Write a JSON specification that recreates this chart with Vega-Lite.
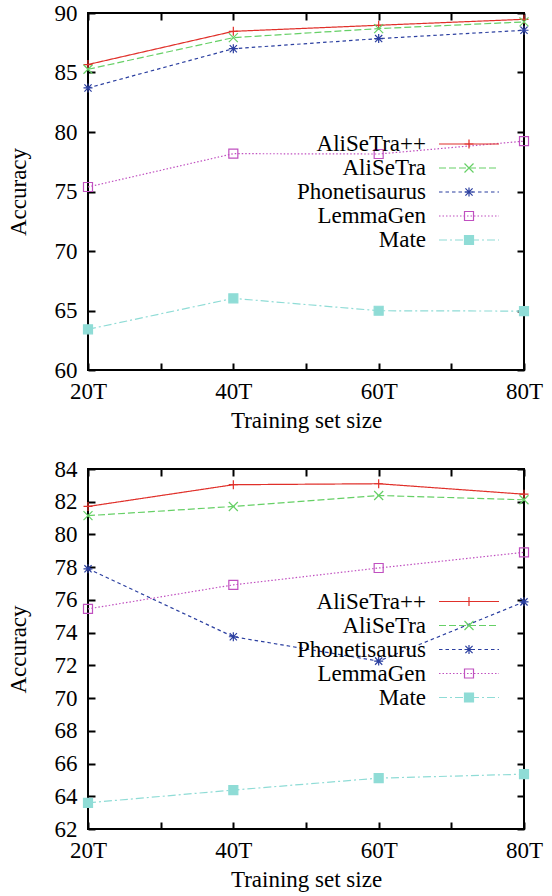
{
  "$schema": "https://vega.github.io/schema/vega-lite/v6.json",
  "padding": {"left": 6, "top": 1, "right": 6, "bottom": 4},
  "background": "white",
  "config": {
    "view": {"stroke": "black", "strokeWidth": 2},
    "font": "Liberation Serif",
    "axis": {"grid": false, "domain": false, "tickColor": "black", "tickWidth": 2, "tickSize": -7, "labelColor": "black", "titleColor": "black", "labelFont": "Liberation Serif", "titleFont": "Liberation Serif", "labelFontSize": 23, "titleFontSize": 23, "titleFontWeight": "normal", "labelOverlap": false, "labelFlush": false},
    "legend": {"rowPadding": -4.7, "labelFont": "Liberation Serif", "labelFontSize": 23, "labelColor": "black"}
  },
  "datasets": {
    "top": [
      {"n": 20, "series": "AliSeTra++", "acc": 85.67},
      {"n": 40, "series": "AliSeTra++", "acc": 88.46},
      {"n": 60, "series": "AliSeTra++", "acc": 88.97},
      {"n": 80, "series": "AliSeTra++", "acc": 89.47},
      {"n": 20, "series": "AliSeTra", "acc": 85.27},
      {"n": 40, "series": "AliSeTra", "acc": 87.93},
      {"n": 60, "series": "AliSeTra", "acc": 88.69},
      {"n": 80, "series": "AliSeTra", "acc": 89.25},
      {"n": 20, "series": "Phonetisaurus", "acc": 83.7},
      {"n": 40, "series": "Phonetisaurus", "acc": 87.0},
      {"n": 60, "series": "Phonetisaurus", "acc": 87.85},
      {"n": 80, "series": "Phonetisaurus", "acc": 88.55},
      {"n": 20, "series": "LemmaGen", "acc": 75.38},
      {"n": 40, "series": "LemmaGen", "acc": 78.18},
      {"n": 60, "series": "LemmaGen", "acc": 78.15},
      {"n": 80, "series": "LemmaGen", "acc": 79.23},
      {"n": 20, "series": "Mate", "acc": 63.42},
      {"n": 40, "series": "Mate", "acc": 66.02},
      {"n": 60, "series": "Mate", "acc": 64.98},
      {"n": 80, "series": "Mate", "acc": 64.95}
    ],
    "bottom": [
      {"n": 20, "series": "AliSeTra++", "acc": 81.71},
      {"n": 40, "series": "AliSeTra++", "acc": 83.04},
      {"n": 60, "series": "AliSeTra++", "acc": 83.1},
      {"n": 80, "series": "AliSeTra++", "acc": 82.46},
      {"n": 20, "series": "AliSeTra", "acc": 81.15},
      {"n": 40, "series": "AliSeTra", "acc": 81.71},
      {"n": 60, "series": "AliSeTra", "acc": 82.38},
      {"n": 80, "series": "AliSeTra", "acc": 82.12},
      {"n": 20, "series": "Phonetisaurus", "acc": 77.9},
      {"n": 40, "series": "Phonetisaurus", "acc": 73.75},
      {"n": 60, "series": "Phonetisaurus", "acc": 72.26},
      {"n": 80, "series": "Phonetisaurus", "acc": 75.88},
      {"n": 20, "series": "LemmaGen", "acc": 75.45},
      {"n": 40, "series": "LemmaGen", "acc": 76.92},
      {"n": 60, "series": "LemmaGen", "acc": 77.95},
      {"n": 80, "series": "LemmaGen", "acc": 78.91},
      {"n": 20, "series": "Mate", "acc": 63.6},
      {"n": 40, "series": "Mate", "acc": 64.38},
      {"n": 60, "series": "Mate", "acc": 65.11},
      {"n": 80, "series": "Mate", "acc": 65.35}
    ]
  },
  "spacing": 24,
  "resolve": {
    "scale": {"x": "independent", "y": "independent", "color": "independent", "strokeDash": "independent", "shape": "independent", "stroke": "independent", "fill": "independent"},
    "legend": {"color": "independent", "strokeDash": "independent", "shape": "independent", "stroke": "independent", "fill": "independent"}
  },
  "vconcat": [
    {
      "width": 436,
      "height": 357,
      "data": {"name": "top"},
      "resolve": {"axis": {"x": "independent", "y": "independent"}},
      "layer": [
        {
          "mark": {"type": "line", "strokeWidth": 1.2},
          "encoding": {
            "x": {"field": "n", "type": "quantitative", "scale": {"domain": [20, 80], "nice": false, "zero": false}, "axis": {"orient": "bottom", "values": [20, 30, 40, 50, 60, 70, 80], "labelExpr": "datum.value % 20 == 0 ? datum.value + 'T' : ''", "title": "Training set size", "labelPadding": 17, "titlePadding": 6}},
            "y": {"field": "acc", "type": "quantitative", "scale": {"domain": [60, 90], "nice": false, "zero": false}, "axis": {"orient": "left", "values": [60, 65, 70, 75, 80, 85, 90], "title": "Accuracy", "labelPadding": 18, "titlePadding": 24}},
            "color": {"field": "series", "type": "nominal", "scale": {"domain": ["AliSeTra++", "AliSeTra", "Phonetisaurus", "LemmaGen", "Mate"], "range": ["#e0302a", "#66d066", "#2b3fa0", "#c050c0", "#8fdcd6"]}, "legend": {"orient": "none", "legendX": 369.5, "legendY": 119.5, "title": null, "symbolType": "M-5,0L5,0", "symbolSize": 144, "symbolStrokeWidth": 1.2, "labelAlign": "right", "labelOffset": -54.5, "padding": 0}},
            "strokeDash": {"field": "series", "type": "nominal", "scale": {"domain": ["AliSeTra++", "AliSeTra", "Phonetisaurus", "LemmaGen", "Mate"], "range": [[1, 0], [7, 3], [3.5, 3], [1.5, 2], [8, 3, 2, 3]]}, "legend": {"orient": "none", "legendX": 369.5, "legendY": 119.5, "title": null, "symbolType": "M-5,0L5,0", "symbolSize": 144, "symbolStrokeWidth": 1.2, "labelAlign": "right", "labelOffset": -54.5, "padding": 0}}
          }
        },
        {
          "mark": {"type": "point", "filled": false, "strokeWidth": 1.2, "size": 81, "opacity": 1},
          "encoding": {
            "x": {"field": "n", "type": "quantitative", "axis": {"orient": "top", "values": [20, 30, 40, 50, 60, 70, 80], "labels": false, "title": null}},
            "y": {"field": "acc", "type": "quantitative", "axis": {"orient": "right", "values": [60, 65, 70, 75, 80, 85, 90], "labels": false, "title": null}},
            "shape": {"field": "series", "type": "nominal", "sort": null, "scale": {"range": ["M-1,0L1,0M0,-1L0,1", "M-1,-1L1,1M-1,1L1,-1", "M-1,0L1,0M0,-1L0,1M-0.8,-0.8L0.8,0.8M-0.8,0.8L0.8,-0.8", "M-1,-1L1,-1L1,1L-1,1Z", "M-1,-1L1,-1L1,1L-1,1Z"]}, "legend": {"orient": "none", "legendX": 369.5, "legendY": 119.5, "title": null, "symbolSize": 81, "symbolStrokeWidth": 1.2, "labelAlign": "right", "labelOffset": -54.5, "labelOpacity": 0, "padding": 0}},
            "stroke": {"field": "series", "type": "nominal", "sort": null, "scale": {"range": ["#e0302a", "#66d066", "#2b3fa0", "#c050c0", "#8fdcd6"]}, "legend": {"orient": "none", "legendX": 369.5, "legendY": 119.5, "title": null, "symbolSize": 81, "symbolStrokeWidth": 1.2, "labelAlign": "right", "labelOffset": -54.5, "labelOpacity": 0, "padding": 0}},
            "fill": {"field": "series", "type": "nominal", "sort": null, "scale": {"range": ["transparent", "transparent", "transparent", "transparent", "#8fdcd6"]}, "legend": {"orient": "none", "legendX": 369.5, "legendY": 119.5, "title": null, "symbolSize": 81, "symbolStrokeWidth": 1.2, "labelAlign": "right", "labelOffset": -54.5, "labelOpacity": 0, "padding": 0}}
          }
        }
      ]
    },
    {
      "width": 436,
      "height": 360,
      "data": {"name": "bottom"},
      "resolve": {"axis": {"x": "independent", "y": "independent"}},
      "layer": [
        {
          "mark": {"type": "line", "strokeWidth": 1.2},
          "encoding": {
            "x": {"field": "n", "type": "quantitative", "scale": {"domain": [20, 80], "nice": false, "zero": false}, "axis": {"orient": "bottom", "values": [20, 30, 40, 50, 60, 70, 80], "labelExpr": "datum.value % 20 == 0 ? datum.value + 'T' : ''", "title": "Training set size", "labelPadding": 17, "titlePadding": 6}},
            "y": {"field": "acc", "type": "quantitative", "scale": {"domain": [62, 84], "nice": false, "zero": false}, "axis": {"orient": "left", "values": [62, 64, 66, 68, 70, 72, 74, 76, 78, 80, 82, 84], "title": "Accuracy", "labelPadding": 18, "titlePadding": 24}},
            "color": {"field": "series", "type": "nominal", "scale": {"domain": ["AliSeTra++", "AliSeTra", "Phonetisaurus", "LemmaGen", "Mate"], "range": ["#e0302a", "#66d066", "#2b3fa0", "#c050c0", "#8fdcd6"]}, "legend": {"orient": "none", "legendX": 369.5, "legendY": 121, "title": null, "symbolType": "M-5,0L5,0", "symbolSize": 144, "symbolStrokeWidth": 1.2, "labelAlign": "right", "labelOffset": -54.5, "padding": 0}},
            "strokeDash": {"field": "series", "type": "nominal", "scale": {"domain": ["AliSeTra++", "AliSeTra", "Phonetisaurus", "LemmaGen", "Mate"], "range": [[1, 0], [7, 3], [3.5, 3], [1.5, 2], [8, 3, 2, 3]]}, "legend": {"orient": "none", "legendX": 369.5, "legendY": 121, "title": null, "symbolType": "M-5,0L5,0", "symbolSize": 144, "symbolStrokeWidth": 1.2, "labelAlign": "right", "labelOffset": -54.5, "padding": 0}}
          }
        },
        {
          "mark": {"type": "point", "filled": false, "strokeWidth": 1.2, "size": 81, "opacity": 1},
          "encoding": {
            "x": {"field": "n", "type": "quantitative", "axis": {"orient": "top", "values": [20, 30, 40, 50, 60, 70, 80], "labels": false, "title": null}},
            "y": {"field": "acc", "type": "quantitative", "axis": {"orient": "right", "values": [62, 64, 66, 68, 70, 72, 74, 76, 78, 80, 82, 84], "labels": false, "title": null}},
            "shape": {"field": "series", "type": "nominal", "sort": null, "scale": {"range": ["M-1,0L1,0M0,-1L0,1", "M-1,-1L1,1M-1,1L1,-1", "M-1,0L1,0M0,-1L0,1M-0.8,-0.8L0.8,0.8M-0.8,0.8L0.8,-0.8", "M-1,-1L1,-1L1,1L-1,1Z", "M-1,-1L1,-1L1,1L-1,1Z"]}, "legend": {"orient": "none", "legendX": 369.5, "legendY": 121, "title": null, "symbolSize": 81, "symbolStrokeWidth": 1.2, "labelAlign": "right", "labelOffset": -54.5, "labelOpacity": 0, "padding": 0}},
            "stroke": {"field": "series", "type": "nominal", "sort": null, "scale": {"range": ["#e0302a", "#66d066", "#2b3fa0", "#c050c0", "#8fdcd6"]}, "legend": {"orient": "none", "legendX": 369.5, "legendY": 121, "title": null, "symbolSize": 81, "symbolStrokeWidth": 1.2, "labelAlign": "right", "labelOffset": -54.5, "labelOpacity": 0, "padding": 0}},
            "fill": {"field": "series", "type": "nominal", "sort": null, "scale": {"range": ["transparent", "transparent", "transparent", "transparent", "#8fdcd6"]}, "legend": {"orient": "none", "legendX": 369.5, "legendY": 121, "title": null, "symbolSize": 81, "symbolStrokeWidth": 1.2, "labelAlign": "right", "labelOffset": -54.5, "labelOpacity": 0, "padding": 0}}
          }
        }
      ]
    }
  ]
}
